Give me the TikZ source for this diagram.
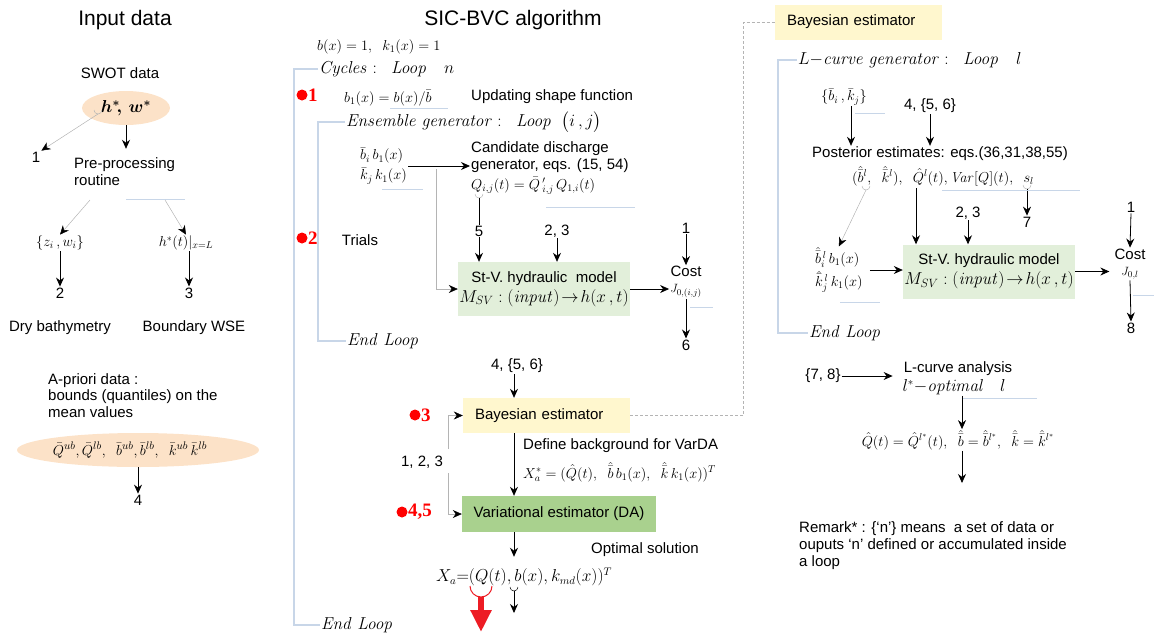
\documentclass[tikz,border=0pt]{standalone}
\usepackage[no-math]{fontspec}
\setmainfont{Liberation Sans}
\newfontfamily\numfont{Liberation Serif}
\usepackage{amsmath}
\usetikzlibrary{arrows.meta,shapes.geometric}
\definecolor{peach}{RGB}{252,226,200}
\definecolor{paleyellow}{RGB}{255,247,206}
\definecolor{palegreen}{RGB}{226,239,218}
\definecolor{midgreen}{RGB}{169,209,142}
\definecolor{loopblue}{RGB}{200,214,232}
\definecolor{wiregray}{RGB}{180,180,180}
\definecolor{bigred}{RGB}{237,28,36}
\begin{document}
\begin{tikzpicture}[x=1pt,y=-1pt,
  lbl/.style={font=\fontsize{15}{17}\selectfont, inner sep=1pt},
  ttl/.style={font=\fontsize{21}{25}\selectfont, inner sep=0pt},
  eq/.style={font=\fontsize{14}{17}\selectfont, inner sep=1pt},
  loopeq/.style={font=\fontsize{17}{20}\selectfont, inner sep=1pt, anchor=west},
  arr/.style={draw=black, line width=0.8pt, -{Stealth[length=9pt,width=8pt]}},
  plainln/.style={draw=black, line width=0.8pt},
  garr/.style={draw=wiregray, line width=0.5pt, -{Stealth[length=9pt,width=8pt,color=black]}},
  hookln/.style={draw=wiregray, line width=0.5pt},
  loopln/.style={draw=loopblue, line width=1.2pt},
  ghost/.style={draw=loopblue, line width=0.8pt},
  dashln/.style={draw=wiregray, line width=0.5pt, dash pattern=on 3pt off 2pt},
  reddot/.style={circle, fill=red, inner sep=0pt, minimum size=11pt},
  rednum/.style={text=red, font=\numfont\bfseries\fontsize{19}{20}\selectfont, inner sep=0pt, anchor=west},
  blob/.style={ellipse, fill=peach, inner sep=0pt},
  ybox/.style={lbl, fill=paleyellow, minimum height=35pt, inner xsep=12pt, text width=143pt, align=left},
  hbox/.style={lbl, fill=palegreen, minimum width=172pt, minimum height=54pt, align=center},
  gbox/.style={lbl, fill=midgreen, minimum width=194pt, minimum height=36pt}]
\useasboundingbox (0,0) rectangle (1154,632);

\node[ttl] (tinput) at (125,20) {Input data};
\node[lbl] (swot) at (120,73) {SWOT data};
\node[blob, minimum width=88pt, minimum height=34pt, font=\fontsize{17}{20}\selectfont] (hw) at (126,108) {$\boldsymbol{h^*\!,\,w^*}$};
\node[lbl] (one) at (36,157) {1};
\node[lbl, anchor=west, align=left] (prep) at (73,172) {Pre-processing\\routine};
\node[eq] (zw) at (60,243) {$\{z_i\,,w_i\}$};
\node[eq] (hL) at (186,243) {$h^*(t)|_{x=L}$};
\node[lbl] (two) at (60,293) {2};
\node[lbl] (three) at (189,293) {3};
\node[lbl] (dry) at (60,328) {Dry bathymetry};
\node[lbl] (bwse) at (194,328) {Boundary WSE};
\node[lbl, anchor=north west, align=left, font=\fontsize{15}{16.5}\selectfont] (apri) at (47,372) {A-priori data :\\bounds (quantiles) on the\\mean values};
\node[blob, minimum width=242pt, minimum height=34pt, font=\fontsize{15.5}{18}\selectfont] (qb) at (138,450) {$\bar Q^{ub},\bar Q^{lb},\;\;\bar b^{ub},\bar b^{lb},\;\;\bar k^{ub}\,\bar k^{lb}$\hspace*{16pt}};
\node[lbl] (four) at (138,500) {4};

\coordinate (hwhook) at (98,114);
\coordinate (prepl) at (90,200);
\coordinate (prepr) at (165,200);
\draw[hookln] (94,110) arc[start angle=180, end angle=360, radius=4pt];
\draw[garr] (hwhook) -- (one.north east);
\draw[arr, shorten >=8pt] (hw.south) -- (hw.south |- prep.north);
\draw[ghost] (126,199) -- (185,199);
\draw[garr] (prepl) -- (zw.north);
\draw[garr] (prepr) -- (hL.north);
\draw[arr] (zw.south) -- (two.north);
\draw[arr] (three.north |- hL.south) -- (three.north);
\draw[arr] (qb.south) -- (four.north);

\node[ttl] (tsic) at (513,20) {SIC-BVC algorithm};
\node[eq, anchor=west] (init) at (316,47) {$b(x)=1,\;\; k_1(x)=1$};
\node[loopeq] (cyc) at (318,69) {$\mathit{Cycles}:\;\;\mathit{Loop}\quad n$};
\node[reddot] (d1) at (302,95) {};
\node[rednum] (n1) at (308,95) {1};
\node[eq, anchor=west] (bone) at (343,98) {$b_1(x)=b(x)/\bar b$};
\node[lbl, anchor=west] (upd) at (470,97) {Updating shape function};
\node[loopeq] (ens) at (345,122) {$\mathit{Ensemble\ generator}:\;\;\mathit{Loop}\;\;\big(i\,,j\big)$};
\node[reddot] (d2) at (302,238) {};
\node[rednum] (n2) at (308,238) {2};
\node[lbl] (trials) at (360,240) {Trials};
\node[eq, anchor=west, align=left] (bk) at (359,166) {$\bar b_i\, b_1(x)$\\[3pt]$\bar k_j\, k_1(x)$};
\node[lbl, anchor=north west, align=left] (cand) at (470,140) {Candidate discharge\\generator, eqs. (15, 54)};
\node[eq, anchor=west] (qeq) at (470,186) {$Q_{i,j}(t)=\bar Q\,'_{i,j}\,Q_{1,i}(t)$};
\node[lbl] (five) at (479,231) {5};
\node[lbl] (tt) at (557,231) {2, 3};
\node[hbox] (hyd) at (544,289) {St-V. hydraulic\ \ model\\[3pt]{\fontsize{18}{20}\selectfont$M_{SV}:(\mathit{input})\!\rightarrow\! h(x\,,t)$}};
\node[lbl, align=center] (cost) at (686,282) {Cost\\[-1pt]{\fontsize{13}{15}\selectfont$J_{0,(i,j)}$}};
\node[lbl] (onec) at (686,228) {1};
\node[lbl] (six) at (686,345) {6};
\node[loopeq] (endB) at (346,341) {$\mathit{End\ Loop}$};

\coordinate (split) at (436,169);
\coordinate (qhk) at (479,198);
\draw[ghost] (390,108) -- (448,108);
\draw[loopln] (ens.west) -- ++(-27,0) |- (endB.west);
\draw[ghost] (382,189) -- (423,189);
\draw[arr] (bk.east) -- (bk.east -| cand.west);
\draw[garr] (split) |- (hyd.west);
\draw[ghost] (546,207) -- (635,207);
\draw[hookln] (475,194) arc[start angle=180, end angle=360, radius=4pt];
\draw[plainln] (qhk) -- (five.north);
\draw[arr] (five.south) -- (five.south |- hyd.north);
\draw[arr] (tt.south) -- (tt.south |- hyd.north);
\draw[arr] (hyd.east) -- (hyd.east -| cost.west);
\draw[arr] (onec.south) -- (cost.north);
\draw[ghost] (690,307) -- (713,307);
\draw[arr] (cost.south) -- (six.north);

\node[lbl] (tfs) at (517,366) {4, \{5, 6\}};
\node[ybox] (bay) at (546.5,415.5) {Bayesian estimator};
\node[reddot] (d3) at (415,415) {};
\node[rednum] (n3) at (421,415) {3};
\node[lbl] (tot) at (422,462) {1, 2, 3};
\node[lbl, anchor=west] (defbg) at (522,446) {Define background for VarDA};
\node[eq, anchor=west] (xstar) at (522,472) {$X^*_a=(\hat Q(t),\;\;\hat{\bar b}\,b_1(x),\;\;\hat{\bar k}\,k_1(x))^T$};
\node[reddot] (d45) at (402,512) {};
\node[rednum] (n45) at (408,512) {4,5};
\node[gbox] (var) at (559,514) {Variational estimator (DA)};
\node[lbl] (opt) at (645,550) {Optimal solution};
\node[eq, anchor=west, font=\fontsize{16}{18}\selectfont] (xa) at (435,577) {$X_a{=}(Q(t),b(x),k_{md}(x))^T$};
\node[loopeq] (endA) at (320,625) {$\mathit{End\ Loop}$};

\coordinate (brtop) at (448,449);
\coordinate (brbot) at (448,473);
\coordinate (qhook) at (481,597);
\coordinate (qout) at (481,632);
\coordinate (bhook) at (514,591);
\coordinate (bout) at (514,613);
\draw[loopln] (cyc.west) -- ++(-24,0) |- (endA.west);
\draw[arr] (tfs.south -| 514,0) -- (bay.north -| 514,0);
\draw[garr] (brtop) |- (bay.west);
\draw[garr] (brbot) |- (var.west);
\draw[arr] (bay.south -| 514,0) -- (var.north -| 514,0);
\draw[arr, shorten >=10pt] (var.south -| 514,0) -- (xa.north -| 514,0);
\draw[bigred, line width=1pt] (470,586) arc[start angle=180, end angle=360, radius=11pt];
\draw[bigred, line width=6pt, -{Triangle[length=22pt,width=20pt]}] (qhook) -- (qout);
\draw[hookln, draw=black] (510,587) arc[start angle=180, end angle=360, radius=4pt];
\draw[arr] (bhook) -- (bout);

\node[ybox] (baytop) at (858.5,22) {Bayesian estimator};
\node[loopeq] (lcg) at (797,60) {$L{-}\mathit{curve\ generator}:\;\;\mathit{Loop}\quad l$};
\node[eq] (bkset) at (844,97) {$\{\bar b_i\,,\bar k_j\}$};
\node[lbl] (tfsr) at (930,106) {4, \{5, 6\}};
\node[lbl] (post) at (940,154) {Posterior estimates: eqs.(36,31,38,55)};
\node[eq] (estim) at (943,176) {$(\hat{\bar b}^l,\;\;\hat{\bar k}^l),\;\;\hat Q^l(t),\mathit{Var}[Q](t),\;\;s_l$};
\node[lbl] (seven) at (1027,222) {7};
\node[lbl] (ttr) at (968,213) {2, 3};
\node[eq, anchor=west, align=left] (bkl) at (814,270) {$\hat{\bar b}_i^{\,l}\,b_1(x)$\\[3pt]$\hat{\bar k}_j^{\,l}\,k_1(x)$};
\node[hbox] (hydr) at (989,271.5) {St-V. hydraulic model\\[3pt]{\fontsize{18}{20}\selectfont$M_{SV}:(\mathit{input})\!\rightarrow\! h(x\,,t)$}};
\node[lbl, align=center] (costr) at (1130,264) {Cost\\[-1pt]{\fontsize{13}{15}\selectfont$J_{0,l}$}};
\node[lbl] (oner) at (1131,207) {1};
\node[lbl] (eight) at (1131,328) {8};
\node[loopeq] (endC) at (808,333) {$\mathit{End\ Loop}$};
\node[lbl] (tse) at (823,376) {\{7, 8\}};
\node[lbl] (lca) at (958,369) {L-curve analysis};
\node[eq, font=\fontsize{16}{18}\selectfont] (lopt) at (954,387) {$l^*{-}\mathit{optimal}\quad l$};
\node[eq] (qhat) at (958,440) {$\hat Q(t)=\hat Q^{l^*}(t),\;\;\hat{\bar b}=\hat{\bar b}^{l^*},\;\;\hat{\bar k}=\hat{\bar k}^{l^*}$};
\node[lbl, anchor=north west, align=left] (remark) at (798,520) {Remark* : \{‘n’\} means\ \ a set of data or\\ouputs ‘n’ defined or accumulated inside\\a loop};

\coordinate (bhk) at (866,190);
\coordinate (qlk) at (916,188);
\coordinate (slk) at (1027,189);
\coordinate (qend) at (962,483);
\draw[dashln] (bay.east) -- ++(113,0) |- (baytop.west);
\draw[loopln] (lcg.west) -- ++(-19,0) |- (endC.west);
\draw[ghost] (855,113) -- (885,113);
\draw[arr] ([xshift=7pt]bkset.south) -- ([xshift=7pt]bkset.south |- post.north);
\draw[arr] (tfsr.south) -- (tfsr.south |- post.north);
\draw[hookln] (862,186) arc[start angle=180, end angle=360, radius=4pt];
\draw[garr] (bhk) -- (bkl.north);
\draw[arr] (qlk) -- (qlk |- hydr.north);
\draw[hookln] (1023,185) arc[start angle=180, end angle=360, radius=4pt];
\draw[arr] (slk) -- (seven.north);
\draw[ghost] (942,190) -- (1080,190);
\draw[arr] (ttr.south) -- (ttr.south |- hydr.north);
\draw[ghost] (840,302) -- (880,302);
\draw[arr, shorten <=6pt] (bkl.east) -- (bkl.east -| hydr.west);
\draw[arr, shorten >=4pt] (hydr.east) -- (hydr.east -| costr.west);
\draw[arr] (oner.south) -- (costr.north);
\draw[ghost] (1133,295) -- (1154,295);
\draw[arr] (costr.south) -- (eight.north);
\draw[arr, shorten >=10pt] (tse.east) -- (tse.east -| lca.west);
\draw[ghost] (963,398) -- (1037,398);
\draw[arr] (lopt.south -| qend) -- (qend |- qhat.north);
\draw[arr] (qhat.south -| qend) -- (qend);
\end{tikzpicture}
\end{document}
